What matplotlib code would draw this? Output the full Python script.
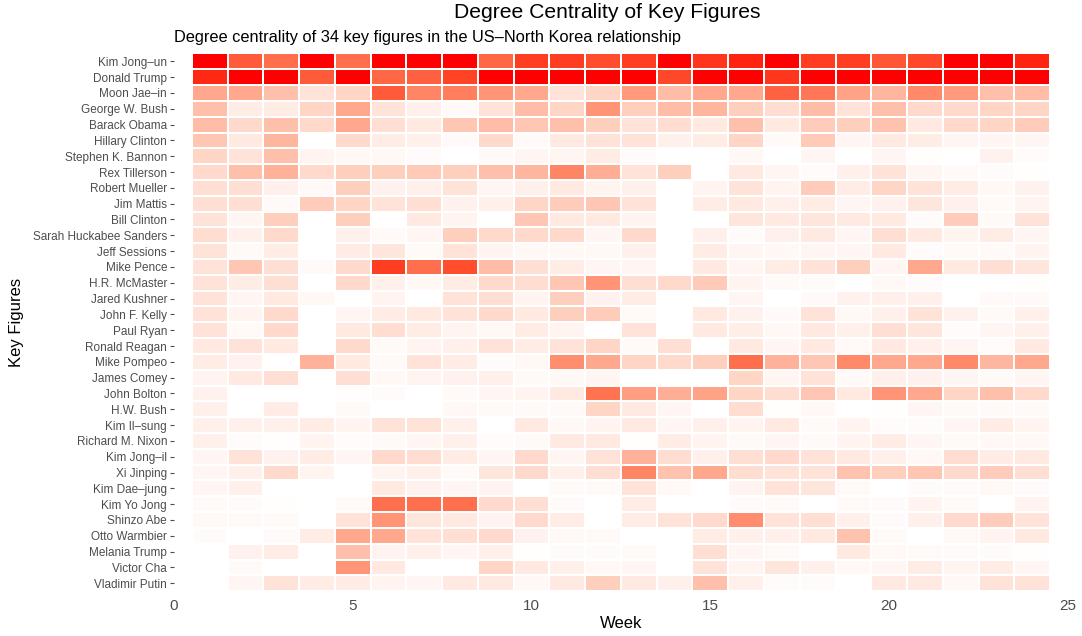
import numpy as np
import matplotlib
matplotlib.use("Agg")
import matplotlib.pyplot as plt
from matplotlib.colors import ListedColormap

plt.rcParams['font.family'] = ['Liberation Sans', 'DejaVu Sans']

figures = [
    "Kim Jong–un", "Donald Trump", "Moon Jae–in", "George W. Bush", "Barack Obama",
    "Hillary Clinton", "Stephen K. Bannon", "Rex Tillerson", "Robert Mueller",
    "Jim Mattis", "Bill Clinton", "Sarah Huckabee Sanders", "Jeff Sessions",
    "Mike Pence", "H.R. McMaster", "Jared Kushner", "John F. Kelly", "Paul Ryan",
    "Ronald Reagan", "Mike Pompeo", "James Comey", "John Bolton", "H.W. Bush",
    "Kim Il–sung", "Richard M. Nixon", "Kim Jong–il", "Xi Jinping", "Kim Dae–jung",
    "Kim Yo Jong", "Shinzo Abe", "Otto Warmbier", "Melania Trump", "Victor Cha",
    "Vladimir Putin",
]
weeks = list(range(1, 25))

# scaled degree centrality, one row per figure, weeks 1..24
centrality = [
    [1.0, .80, .72, 1.0, .72, 1.0, 1.0, 1.0, .75, .90, .90, .85, .90, 1.0, .92, .96, 1.0, .90, .90, .82, .87, 1.0, 1.0, .96],
    [.95, 1.0, 1.0, .80, 1.0, .75, .78, .88, 1.0, 1.0, 1.0, 1.0, 1.0, .87, 1.0, 1.0, .92, 1.0, 1.0, 1.0, 1.0, 1.0, 1.0, 1.0],
    [.45, .45, .33, .15, .22, .80, .62, .65, .55, .45, .15, .22, .52, .35, .45, .45, .77, .68, .48, .38, .60, .52, .33, .35],
    [.33, .10, .10, .22, .45, .15, .08, .03, .15, .35, .22, .55, .25, .35, .38, .25, .18, .35, .15, .33, .20, .20, .22, .22],
    [.35, .20, .33, .20, .45, .17, .12, .30, .35, .30, .33, .25, .15, .18, .12, .33, .12, .27, .25, .32, .12, .20, .22, .27],
    [.30, .12, .38, 0.0, .20, .10, .08, .03, .20, .03, .12, .15, .15, .08, .10, .22, .03, .28, .05, .12, .10, .05, .05, .05],
    [.22, .15, .33, .06, .04, .04, .02, 0.0, .03, .05, .05, .10, .02, 0.0, 0.0, .04, 0.0, .05, 0.0, .05, .01, 0.0, .07, .02],
    [.20, .33, .40, .20, .25, .25, .28, .25, .33, .38, .62, .42, .15, .25, 0.0, .12, .05, .02, .08, .15, .05, .03, .02, .01],
    [.17, .17, .08, .03, .25, .07, .08, .15, .05, .08, .12, .06, .08, 0.0, .06, .15, .06, .27, .10, .22, .15, .10, .04, .07],
    [.17, .17, .03, .27, .22, .15, .17, .07, .08, .22, .27, .30, .15, 0.0, .10, .12, .08, .10, .05, .07, .13, .08, .03, .06],
    [.15, .05, .25, 0.0, .25, 0.0, .12, .06, 0.0, .30, .12, .12, .06, 0.0, 0.0, .13, .12, .13, .12, .12, .02, .27, .03, .15],
    [.18, .08, .20, 0.0, .08, .03, .05, .25, .20, .20, .20, .05, .20, 0.0, .08, .02, .08, .12, .05, .17, .12, .06, .10, .05],
    [.15, .03, .10, 0.0, .10, .13, .03, .15, .06, .04, .04, .04, .08, 0.0, .10, .05, .04, .05, .05, .12, .02, .03, .03, .06],
    [.15, .30, .17, .03, .20, .90, .72, .85, .35, .17, .10, .05, .05, 0.0, .12, .05, .10, .15, .25, .05, .45, .12, .17, .13],
    [.15, .10, .17, 0.0, .20, .08, .04, .10, .20, .18, .30, .55, .17, .20, .28, .06, .03, .02, 0.0, .04, .02, 0.0, 0.0, .01],
    [.15, .05, .12, .04, 0.0, .06, 0.0, .15, .17, .06, .25, .07, .10, 0.0, 0.0, .05, 0.0, .03, .07, .08, .08, 0.0, .03, .03],
    [.15, .06, .20, 0.0, .05, .10, .12, .15, .20, .12, .25, .27, .03, 0.0, .12, .07, .03, .15, .04, .08, .15, .07, .03, .08],
    [.15, .03, .20, 0.0, .12, .18, .10, .06, .04, .10, .06, 0.0, .15, 0.0, .12, .09, .04, .12, .08, .17, .13, .02, .05, .08],
    [.12, .15, .12, 0.0, .20, .03, .06, .08, .15, .10, .15, .22, .03, .17, 0.0, .12, .05, .12, .03, .12, .08, .05, .02, .12],
    [.10, .07, 0.0, .40, .12, .03, .15, .10, .02, .04, .58, .45, .22, .20, .25, .72, .40, .30, .60, .45, .45, .60, .38, .45],
    [.06, .12, .17, 0.0, .17, .04, .06, .07, .08, .03, .04, .05, 0.0, 0.0, 0.0, .22, .05, .15, .03, .08, .07, .05, .03, .05],
    [.07, 0.0, 0.0, 0.0, .01, .02, 0.0, .03, .05, .06, .12, .70, .50, .42, .48, .22, .18, .30, .12, .55, .45, .22, .33, .20],
    [.08, 0.0, .10, 0.0, .03, 0.0, 0.0, .04, .03, .03, .03, .22, .12, .05, 0.0, .18, .01, .04, 0.0, .01, .05, .03, .03, .03],
    [.08, .08, .08, .10, .06, .15, .15, .08, 0.0, .12, .04, .06, .12, .05, .08, .06, .12, .03, .06, .02, .02, .05, .10, .06],
    [.08, .02, .01, .06, .02, .03, .05, .08, .02, .03, .12, .12, .01, .10, .06, .03, .05, .03, .06, .10, .05, .03, .04, .04],
    [.05, .15, .07, .10, .05, .20, .18, .10, .05, .20, .05, .15, .40, .18, .08, .17, .20, .15, .12, .08, .04, .18, .10, .12],
    [.05, .08, .20, .06, 0.0, .06, .08, .03, .13, .20, .08, .17, .62, .32, .45, .18, .15, .15, .32, .25, .30, .20, .27, .17],
    [.05, .08, 0.0, 0.0, 0.0, .12, .07, .05, .06, 0.0, .03, .03, .15, .04, 0.0, .06, .15, .13, .03, 0.0, .02, .02, .04, .02],
    [.03, .02, .01, 0.0, .03, .72, .72, .72, .20, .17, .02, 0.0, .10, 0.0, 0.0, .02, .03, 0.0, .03, .02, .06, .03, 0.0, .06],
    [.04, .03, .03, 0.0, .15, .55, .13, .12, .06, .20, .10, 0.0, .10, .15, .20, .58, .15, .17, .08, .02, .08, .20, .27, .15],
    [.02, 0.0, .02, .10, .45, .45, .15, .17, .20, .07, .04, .03, 0.0, 0.0, .10, .08, .08, .12, .32, .03, 0.0, .04, .06, .12],
    [0.0, .07, .10, 0.0, .33, .06, .08, .05, .08, .01, .02, .02, .03, 0.0, .17, .05, .03, 0.0, .12, .04, .03, .02, .02, .01],
    [0.0, .03, 0.0, 0.0, .55, .12, 0.0, 0.0, .22, .12, .08, .04, .05, 0.0, .15, .06, .13, .08, .04, .05, .10, .06, .10, .05],
    [0.0, .05, .15, .10, .10, .06, .05, .12, .12, .04, .12, .25, .12, .08, .33, .08, .02, .02, 0.0, .12, .12, .04, .15, .15],
]


def white_to_red_lab(n=256):
    # interpolate white -> red in CIE Lab, like ggplot's gradient
    t = np.linspace(0, 1, n)
    L = 100 + (53.24 - 100) * t
    a = 80.09 * t
    b = 67.20 * t
    fy = (L + 16) / 116
    fx = fy + a / 500
    fz = fy - b / 200

    def finv(v):
        return np.where(v > 6 / 29, v ** 3, 3 * (6 / 29) ** 2 * (v - 4 / 29))

    xyz = np.vstack([0.95047 * finv(fx), finv(fy), 1.08883 * finv(fz)])
    m = np.array([[3.2406, -1.5372, -0.4986],
                  [-0.9689, 1.8758, 0.0415],
                  [0.0557, -0.2040, 1.0570]])
    lin = np.clip(m @ xyz, 0, 1)
    srgb = np.where(lin <= 0.0031308, 12.92 * lin, 1.055 * lin ** (1 / 2.4) - 0.055)
    return ListedColormap(np.clip(srgb.T, 0, 1))


data = np.array(centrality)
x_edges = np.arange(len(weeks) + 1) + 0.5
y_edges = np.arange(len(figures) + 1) - 0.5

fig = plt.figure(figsize=(10.82, 6.36), dpi=100)
ax = fig.add_axes([0.1608, 0.0705, 0.8262, 0.8455])

ax.pcolormesh(x_edges, y_edges, data, cmap=white_to_red_lab(), vmin=0, vmax=1,
              edgecolors='white', linewidth=1.2)

ax.set_xlim(0, 25)
ax.set_ylim(len(figures) - 0.5, -0.5)
ax.set_xticks([0, 5, 10, 15, 20, 25])
ax.set_yticks(range(len(figures)))
ax.set_yticklabels(figures)
ax.tick_params(axis='x', length=0, labelsize=11, labelcolor='#4d4d4d', pad=6)
ax.tick_params(axis='y', length=3, width=0.8, color='#4d4d4d', labelsize=8.5,
               labelcolor='#4d4d4d', pad=2)
for s in ax.spines.values():
    s.set_visible(False)

ax.set_xlabel("Week", fontsize=12, labelpad=2)
ax.set_ylabel("Key Figures", fontsize=12, labelpad=6)

fig.text(0.561, 0.980, "Degree Centrality of Key Figures", ha='center', va='center', fontsize=15.2)
fig.text(0.1608, 0.941, "Degree centrality of 34 key figures in the US–North Korea relationship",
         ha='left', va='center', fontsize=11.8)

fig.savefig("out.png", dpi=100)
